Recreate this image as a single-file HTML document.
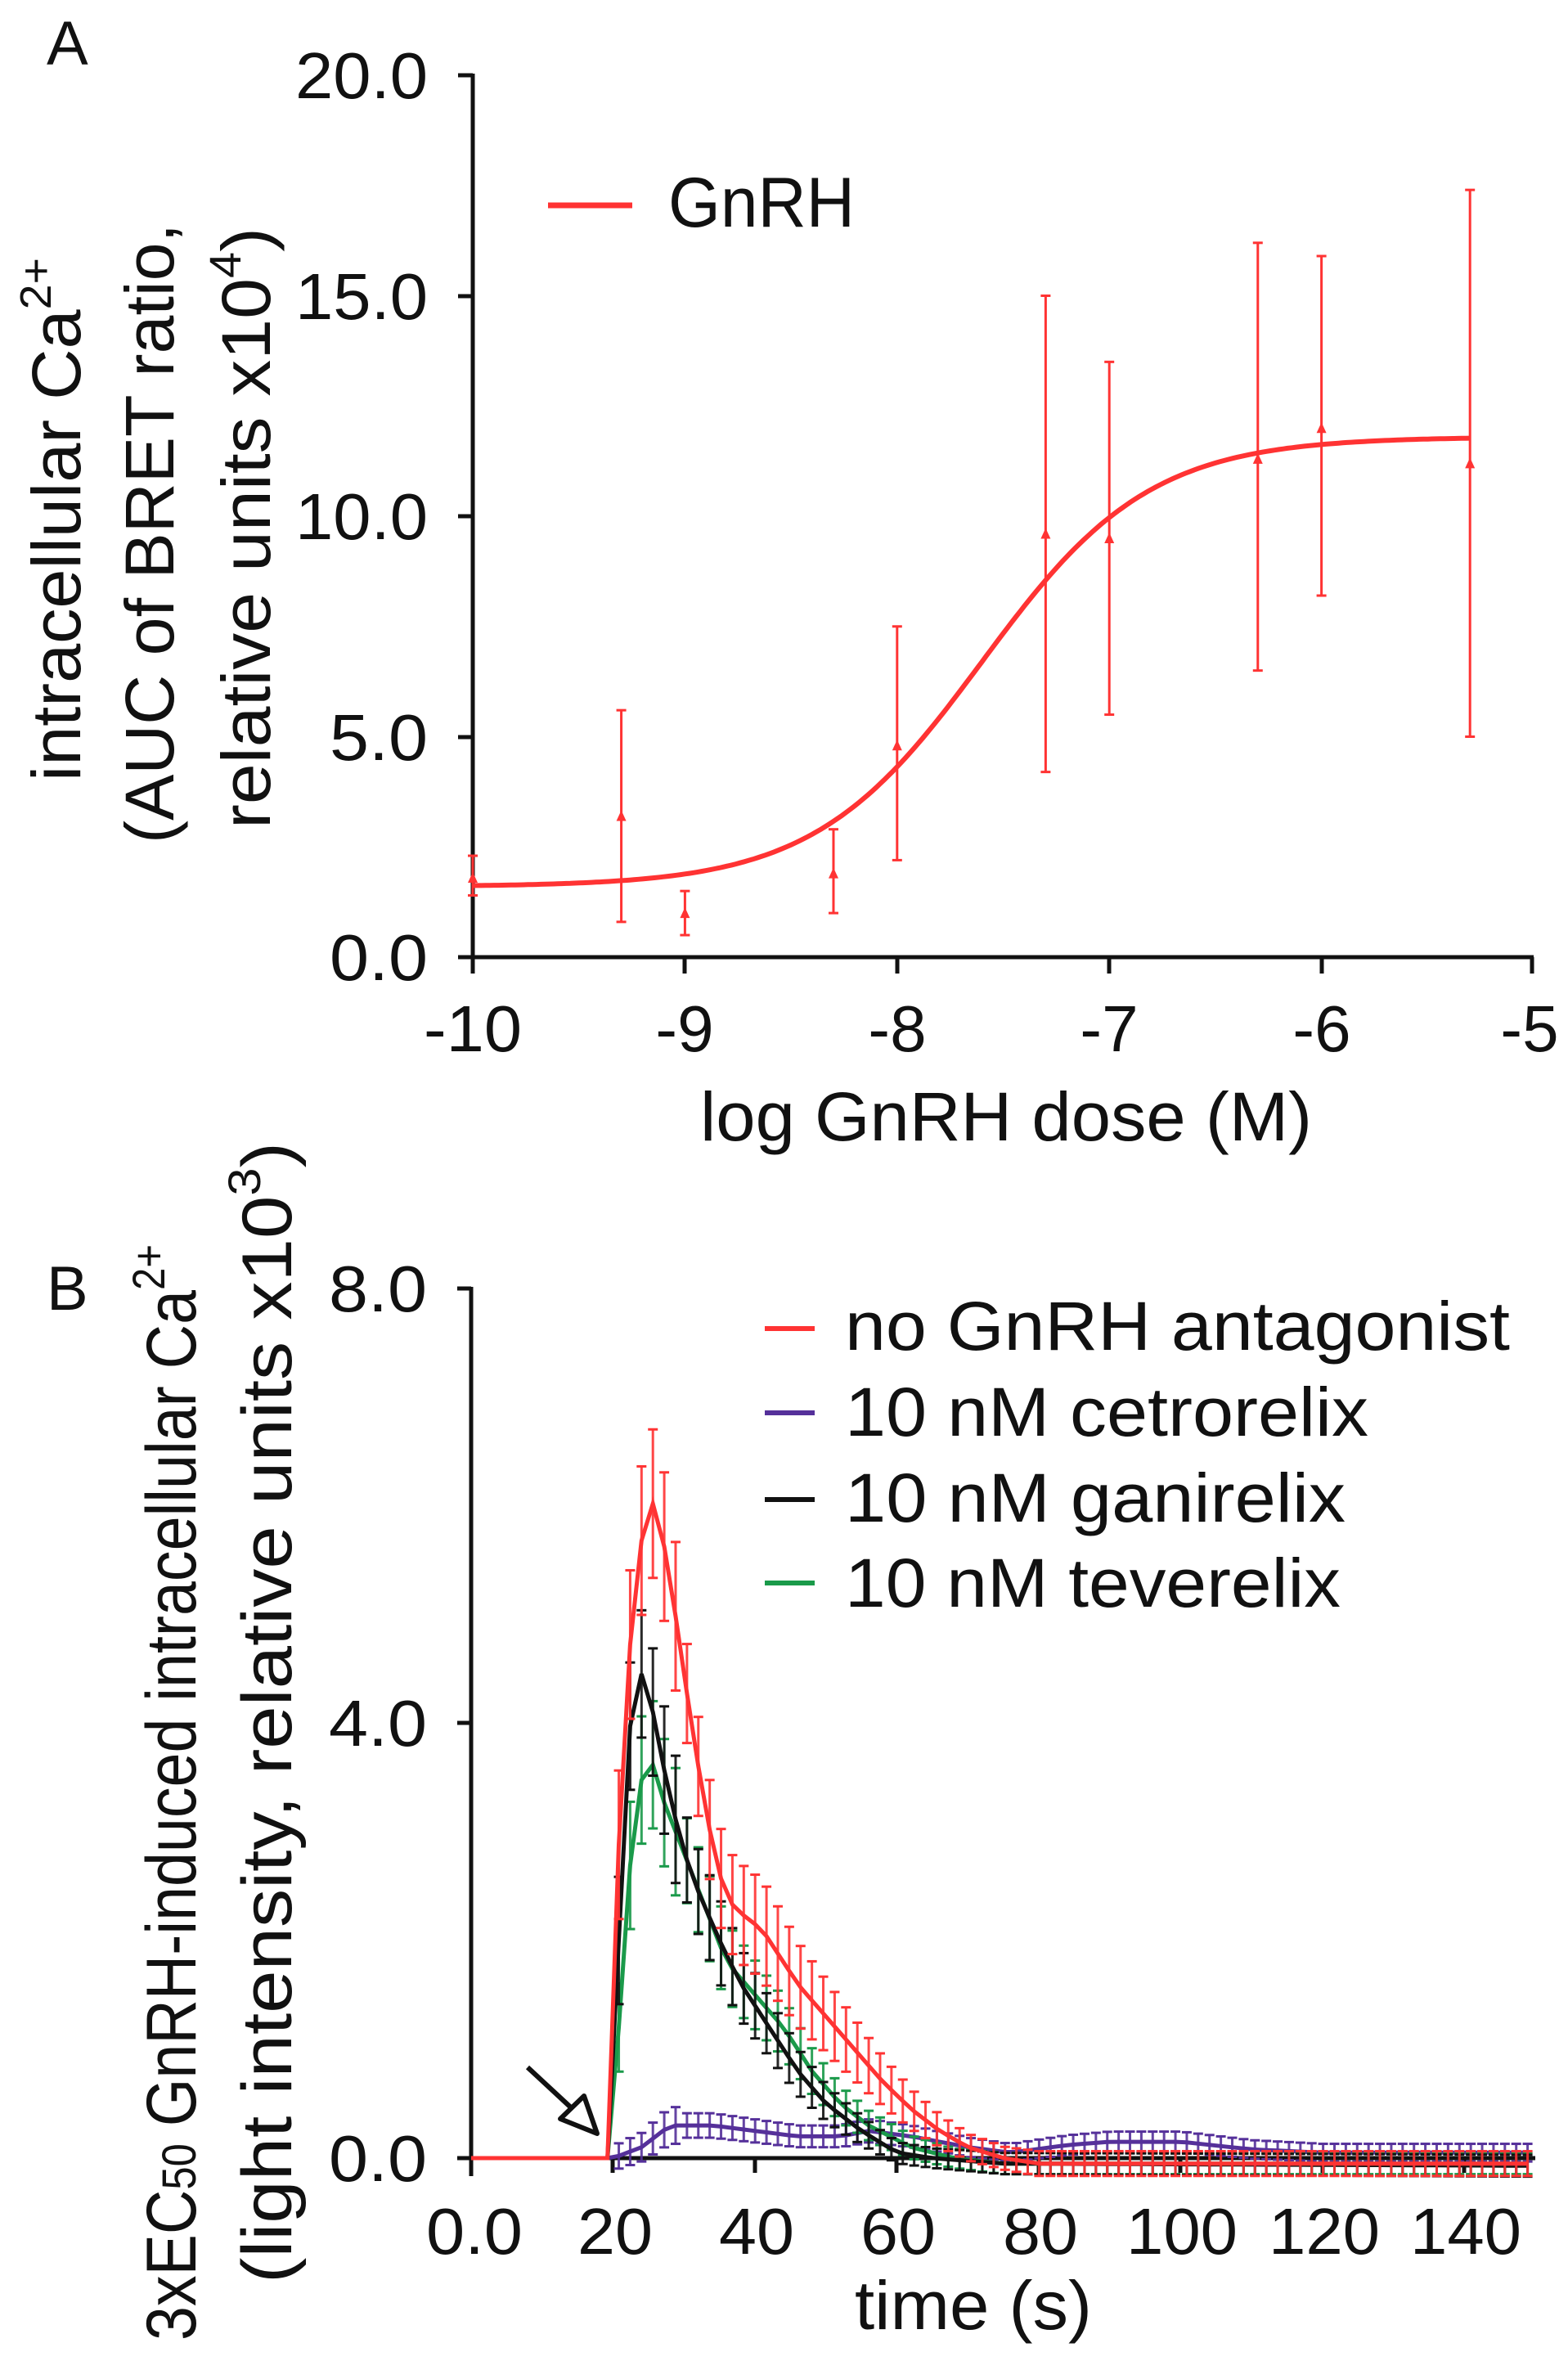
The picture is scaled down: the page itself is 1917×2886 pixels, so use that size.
<!DOCTYPE html>
<html><head><meta charset="utf-8"><style>
html,body{margin:0;padding:0;background:#fff;}
svg{display:block;}
text{font-family:"Liberation Sans",sans-serif;fill:#111;}
</style></head><body>
<svg id="s" width="1917" height="2886" viewBox="0 0 1917 2886" xmlns="http://www.w3.org/2000/svg">
<rect width="1917" height="2886" fill="#fff"/>
<!-- Panel A -->
<text x="57" y="79" font-size="76">A</text>
<g stroke="#111" stroke-width="5" fill="none">
<line x1="578" y1="90" x2="578" y2="1172"/>
<line x1="576" y1="1170" x2="1875" y2="1170"/>
<line x1="560" y1="92" x2="578" y2="92"/>
<line x1="560" y1="362" x2="578" y2="362"/>
<line x1="560" y1="631" x2="578" y2="631"/>
<line x1="560" y1="901" x2="578" y2="901"/>
<line x1="560" y1="1170" x2="578" y2="1170"/>
<line x1="578" y1="1170" x2="578" y2="1190"/>
<line x1="837" y1="1170" x2="837" y2="1190"/>
<line x1="1097" y1="1170" x2="1097" y2="1190"/>
<line x1="1356" y1="1170" x2="1356" y2="1190"/>
<line x1="1616" y1="1170" x2="1616" y2="1190"/>
<line x1="1873" y1="1170" x2="1873" y2="1190"/>
</g>
<g font-size="80" text-anchor="end" lengthAdjust="spacingAndGlyphs">
<text x="523" y="120" textLength="162" lengthAdjust="spacingAndGlyphs">20.0</text>
<text x="523" y="390" textLength="162" lengthAdjust="spacingAndGlyphs">15.0</text>
<text x="523" y="659" textLength="162" lengthAdjust="spacingAndGlyphs">10.0</text>
<text x="523" y="929" textLength="120" lengthAdjust="spacingAndGlyphs">5.0</text>
<text x="523" y="1198" textLength="120" lengthAdjust="spacingAndGlyphs">0.0</text>
</g>
<g font-size="80" text-anchor="middle">
<text x="578" y="1285" textLength="120" lengthAdjust="spacingAndGlyphs">-10</text>
<text x="837" y="1285">-9</text>
<text x="1097" y="1285">-8</text>
<text x="1356" y="1285">-7</text>
<text x="1616" y="1285">-6</text>
<text x="1870" y="1285">-5</text>
</g>
<text x="856" y="1394" font-size="84" textLength="748" lengthAdjust="spacingAndGlyphs">log GnRH dose (M)</text>
<g font-size="84">
<text transform="translate(98,955) rotate(-90)" textLength="640" lengthAdjust="spacingAndGlyphs">intracellular Ca<tspan font-size="54" dy="-36">2+</tspan></text>
<text transform="translate(212,1031) rotate(-90)" textLength="758" lengthAdjust="spacingAndGlyphs">(AUC of BRET ratio,</text>
<text transform="translate(330,1013) rotate(-90)" textLength="735" lengthAdjust="spacingAndGlyphs">relative units x10<tspan font-size="54" dy="-36">4</tspan><tspan dy="36">)</tspan></text>
</g>
<line x1="670" y1="251" x2="773" y2="251" stroke="#f33" stroke-width="7"/>
<text x="817" y="277" font-size="86" textLength="228" lengthAdjust="spacingAndGlyphs">GnRH</text>
<g id="A"></g>
<!-- Panel B -->
<text x="57" y="1601" font-size="76">B</text>
<g stroke="#111" stroke-width="5" fill="none">
<line x1="576" y1="1573" x2="576" y2="2660"/>
<line x1="574" y1="2638" x2="1877" y2="2638"/>
<line x1="559" y1="1575" x2="576" y2="1575"/>
<line x1="559" y1="2106" x2="576" y2="2106"/>
<line x1="559" y1="2638" x2="576" y2="2638"/>
<line x1="749" y1="2638" x2="749" y2="2656"/>
<line x1="923" y1="2638" x2="923" y2="2656"/>
<line x1="1096" y1="2638" x2="1096" y2="2656"/>
<line x1="1270" y1="2638" x2="1270" y2="2656"/>
<line x1="1443" y1="2638" x2="1443" y2="2656"/>
<line x1="1617" y1="2638" x2="1617" y2="2656"/>
<line x1="1790" y1="2638" x2="1790" y2="2656"/>
</g>
<g font-size="80" text-anchor="end">
<text x="522" y="1603" textLength="120" lengthAdjust="spacingAndGlyphs">8.0</text>
<text x="522" y="2134" textLength="120" lengthAdjust="spacingAndGlyphs">4.0</text>
<text x="522" y="2666" textLength="120" lengthAdjust="spacingAndGlyphs">0.0</text>
</g>
<g font-size="80" text-anchor="middle">
<text x="580" y="2755" textLength="118" lengthAdjust="spacingAndGlyphs">0.0</text>
<text x="752" y="2755" textLength="92" lengthAdjust="spacingAndGlyphs">20</text>
<text x="925" y="2755" textLength="92" lengthAdjust="spacingAndGlyphs">40</text>
<text x="1098" y="2755" textLength="92" lengthAdjust="spacingAndGlyphs">60</text>
<text x="1272" y="2755" textLength="92" lengthAdjust="spacingAndGlyphs">80</text>
<text x="1445" y="2755" textLength="136" lengthAdjust="spacingAndGlyphs">100</text>
<text x="1619" y="2755" textLength="136" lengthAdjust="spacingAndGlyphs">120</text>
<text x="1792" y="2755" textLength="136" lengthAdjust="spacingAndGlyphs">140</text>
</g>
<text x="1045" y="2847" font-size="84" textLength="290" lengthAdjust="spacingAndGlyphs">time (s)</text>
<g font-size="86">
<text transform="translate(239,2861) rotate(-90)" textLength="1340" lengthAdjust="spacingAndGlyphs">3xEC<tspan font-size="58">50</tspan> GnRH-induced intracellular Ca<tspan font-size="56" dy="-38">2+</tspan></text>
<text transform="translate(356,2791) rotate(-90)" textLength="1395" lengthAdjust="spacingAndGlyphs">(light intensity, relative units x10<tspan font-size="56" dy="-38">3</tspan><tspan dy="38">)</tspan></text>
</g>
<g stroke-width="6">
<line x1="935" y1="1624" x2="996" y2="1624" stroke="#f33"/>
<line x1="935" y1="1727" x2="996" y2="1727" stroke="#55309a"/>
<line x1="935" y1="1833" x2="996" y2="1833" stroke="#111"/>
<line x1="935" y1="1935" x2="996" y2="1935" stroke="#1a9a4a"/>
</g>
<g font-size="84">
<text x="1033" y="1650" textLength="813" lengthAdjust="spacingAndGlyphs">no GnRH antagonist</text>
<text x="1033" y="1755" textLength="640" lengthAdjust="spacingAndGlyphs">10 nM cetrorelix</text>
<text x="1033" y="1860" textLength="612" lengthAdjust="spacingAndGlyphs">10 nM ganirelix</text>
<text x="1033" y="1964" textLength="606" lengthAdjust="spacingAndGlyphs">10 nM teverelix</text>
</g>
<g id="B"></g>
<line x1="645" y1="2527" x2="700" y2="2578" stroke="#111" stroke-width="6"/>
<polygon points="730,2608 685,2590 714,2562" fill="#fff" stroke="#111" stroke-width="6" stroke-linejoin="round"/>
</svg>
<script>
var NS="http://www.w3.org/2000/svg";
function el(g,t,a){var e=document.createElementNS(NS,t);for(var k in a)e.setAttribute(k,a[k]);g.appendChild(e);return e;}
var gA=document.getElementById("A");
function ax(l){return 578+(l+10)*259.4;} function ay(v){return 1170-v*53.9;}
var d="";for(var l=-10;l<=-5.3;l+=0.02){var v=1.6+10.2/(1+Math.pow(10,(-7.6-l)*1.1));d+=(d?"L":"M")+ax(l).toFixed(1)+","+ay(v).toFixed(1);}
el(gA,"path",{d:d,stroke:"#f33","stroke-width":6,fill:"none"});
var pts=[[-10,1.8,1.4,2.3],[-9.3,3.2,0.8,5.6],[-9,1.0,0.5,1.5],[-8.3,1.9,1.0,2.9],[-8,4.8,2.2,7.5],[-7.3,9.6,4.2,15.0],[-7,9.5,5.5,13.5],[-6.3,11.3,6.5,16.2],[-6,12.0,8.2,15.9],[-5.3,11.2,5.0,17.4]];
pts.forEach(function(p){var x=ax(p[0]);
el(gA,"line",{x1:x,x2:x,y1:ay(p[2]),y2:ay(p[3]),stroke:"#f33","stroke-width":3});
el(gA,"line",{x1:x-6,x2:x+6,y1:ay(p[2]),y2:ay(p[2]),stroke:"#f33","stroke-width":3});
el(gA,"line",{x1:x-6,x2:x+6,y1:ay(p[3]),y2:ay(p[3]),stroke:"#f33","stroke-width":3});
el(gA,"polygon",{points:(x-6)+","+(ay(p[1])+6)+" "+(x+6)+","+(ay(p[1])+6)+" "+x+","+(ay(p[1])-7),fill:"#f33"});});
var gB=document.getElementById("B");
function bx(t){return 576+t*8.68;} function by(v){return 2638-v*133;}
function interp(k,t){if(t<=k[0][0])return k[0][1];for(var i=1;i<k.length;i++){if(t<=k[i][0]){var a=k[i-1],b=k[i];return a[1]+(b[1]-a[1])*(t-a[0])/(b[0]-a[0]);}}return k[k.length-1][1];}
var S=[
{c:"#55309a",e:0.25,k:[[0,0],[20,0],[24,0.1],[28,0.3],[34,0.3],[40,0.25],[46,0.2],[52,0.2],[56,0.25],[62,0.2],[70,0.1],[76,0.05],[84,0.12],[90,0.15],[100,0.15],[110,0.08],[120,0.05],[150,0.05]]},
{c:"#1a9a4a",e:0.3,k:[[0,0],[20,0],[21,1.5],[23,3.2],[25,3.75],[27,3.3],[30,2.8],[33,2.3],[36,1.8],[40,1.5],[44,1.2],[48,0.8],[52,0.5],[56,0.3],[62,0.1],[68,0],[75,-0.05],[150,-0.05]]},
{c:"#111",e:0.3,k:[[0,0],[20,0],[21,2.5],[23,4.6],[25,4.3],[28,3.3],[31,2.6],[35,2.0],[38,1.6],[42,1.2],[46,0.8],[50,0.5],[55,0.25],[60,0.05],[65,0],[75,-0.05],[150,-0.07]]},
{c:"#f33",e:0.35,k:[[0,0],[20,0],[21,3.6],[23,5.2],[25,6.15],[27,5.7],[29,4.9],[31,4.0],[33,3.2],[35,2.6],[37,2.3],[39,2.2],[41,2.1],[43,1.9],[46,1.6],[50,1.3],[54,1.0],[58,0.7],[62,0.45],[66,0.25],[70,0.1],[75,0],[80,-0.05],[150,-0.05]]}];
S.forEach(function(s){var d="";
for(var t=0;t<=150;t+=1.6){var v=interp(s.k,t);var x=bx(t),y=by(v);d+=(d?"L":"M")+x.toFixed(1)+","+y.toFixed(1);
var e=t<20?0.02:s.e*(0.3+Math.min(1,Math.abs(v)/2))*(t<30?1.5:1);
if(t>=20){el(gB,"line",{x1:x,x2:x,y1:by(v-e),y2:by(v+e),stroke:s.c,"stroke-width":3,opacity:0.9});
el(gB,"line",{x1:x-6,x2:x+6,y1:by(v-e),y2:by(v-e),stroke:s.c,"stroke-width":3});
el(gB,"line",{x1:x-6,x2:x+6,y1:by(v+e),y2:by(v+e),stroke:s.c,"stroke-width":3});}}
el(gB,"path",{d:d,stroke:s.c,"stroke-width":5,fill:"none"});});
</script>
</body></html>
